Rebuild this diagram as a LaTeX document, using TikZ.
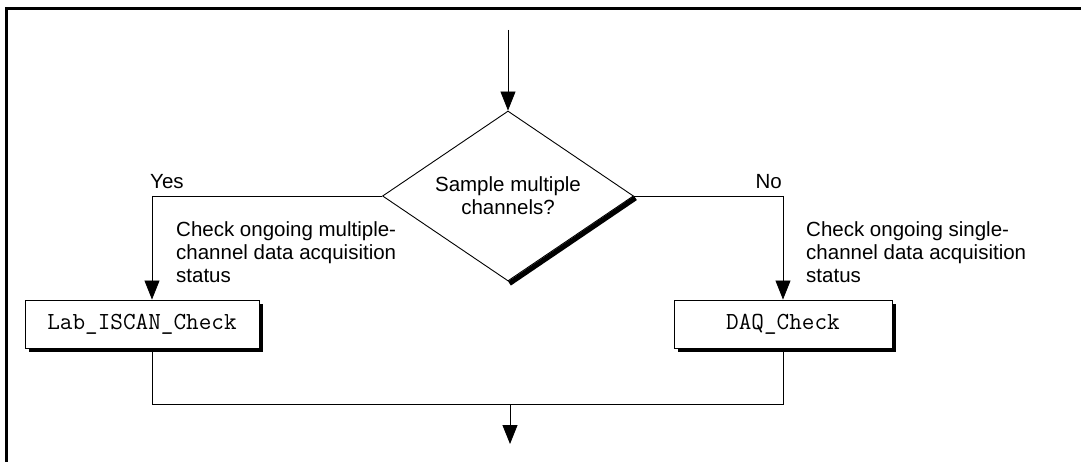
\documentclass[tikz,border=0pt]{standalone}
\usepackage{fontspec}
\setmainfont{Liberation Sans}
\usetikzlibrary{shapes.geometric,arrows.meta,calc}
\begin{document}
\begin{tikzpicture}[x=1pt,y=-1pt,
  lbl/.style={font=\fontsize{20.5}{23}\selectfont, inner sep=0pt},
  desc/.style={lbl, align=left},
  conn/.style={line width=0.9pt},
  arr/.style={conn, -{Triangle[length=19pt,width=15pt]}},
  dec/.style={diamond, draw, line width=0.9pt, minimum width=251pt, minimum height=170pt, shape aspect=1.476, inner sep=0pt, align=center, font=\fontsize{20.5}{23}\selectfont},
  procbox/.style={draw, line width=0.9pt, fill=white, minimum height=48pt, inner sep=0pt, font=\ttfamily\fontsize{24.5}{26}\selectfont},
  shadowbox/.style={fill=black, draw=none, minimum height=48pt, inner sep=0pt}
]
\useasboundingbox (0,0) rectangle (1081,462);
\draw[line width=3pt] (6,462) -- (6,9) -- (1081,9);

% decision
\node[dec] (d) at (508,196) {Sample multiple\\channels?};
\draw[line width=5pt] ([shift={(1.5,2)}]d.east) -- ([shift={(1.5,2)}]d.south);
\coordinate (start) at (508,30);
\draw[arr] (start) -- (d.north);

% boxes
\node[shadowbox, minimum width=234pt] (ls) at (146,328) {};
\node[procbox, minimum width=234pt] (lb) at (142,324) {Lab\_ISCAN\_Check};
\node[shadowbox, minimum width=218pt] (rs) at (787,328) {};
\node[procbox, minimum width=218pt] (rb) at (783,324) {DAQ\_Check};

% branches
\coordinate (lc) at (152,196);
\coordinate (rc) at (783,196);
\draw[conn] (d.west) -- (lc);
\draw[arr] (lc) -- (lc |- lb.north);
\draw[conn] (d.east) -- (rc);
\draw[arr] (rc) -- (rb.north);

\node[lbl, anchor=south west] (yes) at (150,189) {Yes};
\node[lbl, anchor=south east] (no) at (782,189) {No};

\node[desc, anchor=north west] (ltxt) at (176,221) {Check ongoing multiple-\\channel data acquisition\\status};
\node[desc, anchor=north west] (rtxt) at (806,221) {Check ongoing single-\\channel data acquisition\\status};

% merge
\coordinate (lm) at (152,404);
\coordinate (rm) at (783,404);
\coordinate (mm) at (510,404);
\coordinate (endp) at (510,444);
\draw[conn] (lc |- lb.south) -- (lm) -- (rm) -- (rb.south);
\draw[arr] (mm) -- (endp);
\end{tikzpicture}
\end{document}
